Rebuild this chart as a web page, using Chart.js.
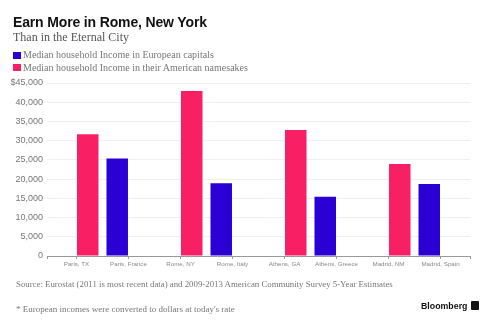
<!DOCTYPE html>
<html lang="en">
<head>
<meta charset="utf-8">
<script src="https://cdn.jsdelivr.net/npm/chart.js"></script>
<style>
  body { margin: 0; background: #fff; }
  #wrap { position: relative; width: 488px; height: 321px; overflow: hidden; }
  #chartCanvas { position: absolute; left: 0; top: 0; }
  .txt { position: absolute; white-space: nowrap; line-height: 1; }
  .title { left: 13px; top: 14px; font: bold 14px "Liberation Sans", Arial, sans-serif; letter-spacing: -0.15px; color: #111; }
  .sub { left: 13px; top: 30px; font: 12px "Liberation Serif", serif; color: #555; }
  .leg { left: 13px; font: 10px "Liberation Serif", serif; color: #777; }
  .leg i { display: inline-block; width: 8px; height: 7px; margin-right: 2px; vertical-align: -0.5px; }
  .note { left: 16px; font: 9px "Liberation Serif", serif; color: #777; }
  .logo { left: 421px; top: 301px; font: bold 8.8px "Liberation Sans", Arial, sans-serif; color: #111; }
  .logo b { display: inline-block; width: 8px; height: 9px; background: #111; margin-left: 4px; vertical-align: -1px; border-radius: 1px; }
</style>
</head>
<body>
<div id="wrap">
  <canvas id="chartCanvas" width="488" height="321"></canvas>
  <div class="txt title">Earn More in Rome, New York</div>
  <div class="txt sub">Than in the Eternal City</div>
  <div id="legend"></div>
  <div class="txt note" style="top:279px; font-size:8.8px">Source: Eurostat (2011 is most recent data) and 2009-2013 American Community Survey 5-Year Estimates</div>
  <div class="txt note" style="top:304px">* European incomes were converted to dollars at today's rate</div>
  <div class="txt logo">Bloomberg<b></b></div>
</div>

<script>
  // city labels along the axis, one per bar
  const cityLabels = ['Paris, TX', 'Paris, France', 'Rome, NY', 'Rome, Italy',
                      'Athens, GA', 'Athens, Greece', 'Madrid, NM', 'Madrid, Spain'];
  const americanIncome = [31700, 42900, 32800, 23900];
  const europeanIncome = [25350, 18900, 15400, 18700];
  const yTicks = [0, 5000, 10000, 15000, 20000, 25000, 30000, 35000, 40000, 45000];

  const PINK = '#f81f65';
  const BLUE = '#2a00d4';

  // legend (European first, like the original)
  const legendItems = [
    { label: 'Median household Income in European capitals', color: BLUE },
    { label: 'Median household Income in their American namesakes', color: PINK }
  ];
  document.getElementById('legend').innerHTML = legendItems.map((it, i) =>
    `<div class="txt leg" style="top:${49 + i * 12.6}px"><i style="background:${it.color}"></i>${it.label}</div>`
  ).join('');

  // each pair of cities shares one slot: American bar sits on the first label, European on the second
  const pairX = i => 2 * i + 0.5;
  const X_MIN = -0.567, X_MAX = cityLabels.length - 1 + 0.567;

  const tickFont = { family: '"Liberation Sans", Arial, sans-serif', size: 9 };
  const barOpts = { xAxisID: 'x2', categoryPercentage: 0.567, barPercentage: 0.729 };

  new Chart(document.getElementById('chartCanvas'), {
    type: 'bar',
    data: {
      datasets: [
        { label: 'American', data: americanIncome.map((v, i) => ({ x: pairX(i), y: v })), backgroundColor: PINK, ...barOpts },
        { label: 'European', data: europeanIncome.map((v, i) => ({ x: pairX(i), y: v })), backgroundColor: BLUE, ...barOpts }
      ]
    },
    options: {
      responsive: false,
      animation: false,
      layout: { padding: { top: 83, right: 18, left: 0, bottom: 0 } },
      plugins: { legend: { display: false }, tooltip: { enabled: false } },
      scales: {
        x: {
          type: 'linear',
          min: X_MIN,
          max: X_MAX,
          offset: false,
          position: 'bottom',
          afterBuildTicks: s => { s.ticks = [X_MIN, ...cityLabels.map((c, i) => i), X_MAX].map(v => ({ value: v })); },
          grid: { offset: false, drawOnChartArea: false, drawTicks: true, tickLength: 3, color: '#999' },
          border: { display: true, color: '#999' },
          ticks: {
            color: '#888',
            font: { family: tickFont.family, size: 6.2 },
            padding: 2,
            maxRotation: 0,
            autoSkip: false,
            callback: v => cityLabels[v] ?? ''
          },
          afterFit: s => { s.height = 65; }
        },
        x2: {
          type: 'linear',
          min: X_MIN,
          max: X_MAX,
          offset: false,
          grid: { offset: false },
          display: false,
          afterBuildTicks: s => { s.ticks = americanIncome.map((v, i) => ({ value: pairX(i) })); }
        },
        y: {
          min: 0,
          max: 45000,
          afterBuildTicks: s => { s.ticks = yTicks.map(v => ({ value: v })); },
          grid: { color: '#efefef', drawTicks: false },
          border: { display: false },
          ticks: {
            color: '#777',
            font: tickFont,
            padding: 4,
            callback: v => (v === 45000 ? '$' : '') + v.toLocaleString('en-US')
          },
          afterFit: s => { s.width = 47; }
        }
      }
    }
  });
</script>
</body>
</html>
